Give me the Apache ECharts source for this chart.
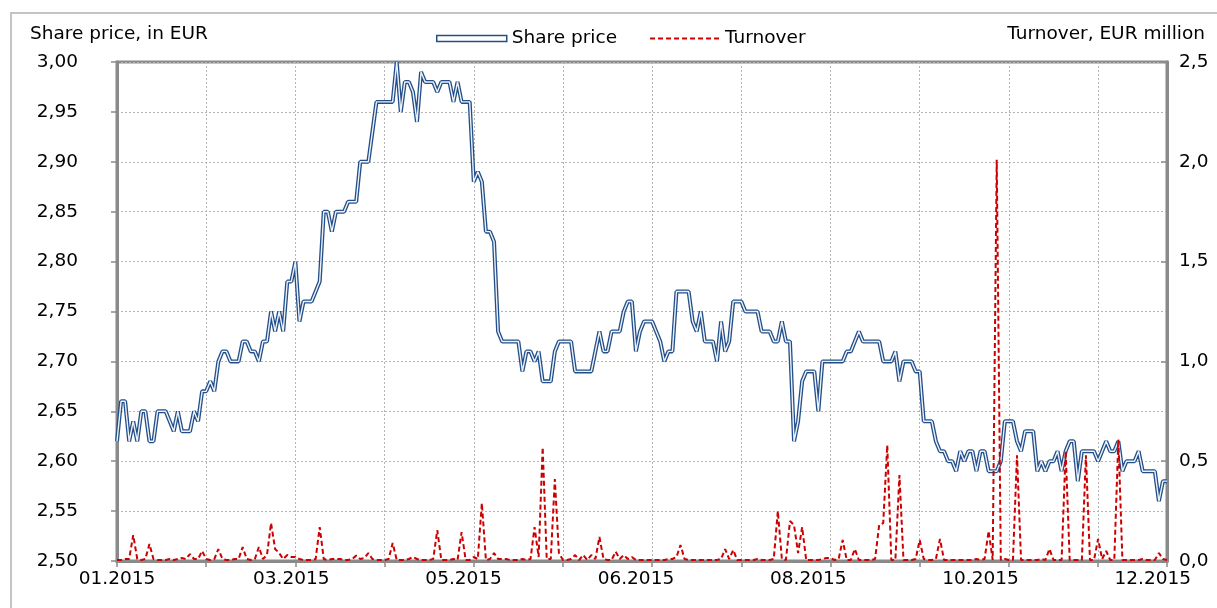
<!DOCTYPE html>
<html>
<head>
<meta charset="utf-8">
<script src="https://cdn.jsdelivr.net/npm/echarts@6/dist/echarts.min.js"></script>
<style>
html,body{margin:0;padding:0;background:#fff;}
#chart{width:1217px;height:608px;}
</style>
</head>
<body>
<div id="chart"></div>
<script>
// Share price (EUR), one value per trading day of 2015
const sharePrice = [
2.62,2.66,2.66,2.62,2.64,2.62,2.65,2.65,2.62,2.62,
2.65,2.65,2.65,2.64,2.63,2.65,2.63,2.63,2.63,2.65,
2.64,2.67,2.67,2.68,2.67,2.70,2.71,2.71,2.70,2.70,
2.70,2.72,2.72,2.71,2.71,2.70,2.72,2.72,2.75,2.73,
2.75,2.73,2.78,2.78,2.80,2.74,2.76,2.76,2.76,2.77,
2.78,2.85,2.85,2.83,2.85,2.85,2.85,2.86,2.86,2.86,
2.90,2.90,2.90,2.93,2.96,2.96,2.96,2.96,2.96,3.00,
2.95,2.98,2.98,2.97,2.94,2.99,2.98,2.98,2.98,2.97,
2.98,2.98,2.98,2.96,2.98,2.96,2.96,2.96,2.88,2.89,
2.88,2.83,2.83,2.82,2.73,2.72,2.72,2.72,2.72,2.72,
2.69,2.71,2.71,2.70,2.71,2.68,2.68,2.68,2.71,2.72,
2.72,2.72,2.72,2.69,2.69,2.69,2.69,2.69,2.71,2.73,
2.71,2.71,2.73,2.73,2.73,2.75,2.76,2.76,2.71,2.73,
2.74,2.74,2.74,2.73,2.72,2.70,2.71,2.71,2.77,2.77,
2.77,2.77,2.74,2.73,2.75,2.72,2.72,2.72,2.70,2.74,
2.71,2.72,2.76,2.76,2.76,2.75,2.75,2.75,2.75,2.73,
2.73,2.73,2.72,2.72,2.74,2.72,2.72,2.62,2.64,2.68,
2.69,2.69,2.69,2.65,2.70,2.70,2.70,2.70,2.70,2.70,
2.71,2.71,2.72,2.73,2.72,2.72,2.72,2.72,2.72,2.70,
2.70,2.70,2.71,2.68,2.70,2.70,2.70,2.69,2.69,2.64,
2.64,2.64,2.62,2.61,2.61,2.60,2.60,2.59,2.61,2.60,
2.61,2.61,2.59,2.61,2.61,2.59,2.59,2.59,2.60,2.64,
2.64,2.64,2.62,2.61,2.63,2.63,2.63,2.59,2.60,2.59,
2.60,2.60,2.61,2.59,2.61,2.62,2.62,2.58,2.61,2.61,
2.61,2.61,2.60,2.61,2.62,2.61,2.61,2.62,2.59,2.60,
2.60,2.60,2.61,2.59,2.59,2.59,2.59,2.56,2.58,2.58
];

// Turnover (EUR million), same trading days
const turnover = [
0.005,0.005,0.01,0.01,0.13,0.01,0.005,0.01,0.085,0.01,
0.005,0.005,0.005,0.01,0.005,0.01,0.015,0.01,0.035,0.01,
0.01,0.05,0.01,0.005,0.01,0.06,0.01,0.005,0.005,0.01,
0.01,0.07,0.01,0.005,0.01,0.07,0.01,0.03,0.19,0.06,
0.04,0.01,0.03,0.02,0.02,0.01,0.005,0.005,0.005,0.01,
0.17,0.01,0.005,0.01,0.01,0.01,0.005,0.005,0.01,0.027,
0.01,0.015,0.04,0.01,0.005,0.005,0.005,0.01,0.09,0.005,
0.005,0.005,0.01,0.02,0.01,0.005,0.005,0.005,0.01,0.155,
0.005,0.005,0.005,0.01,0.005,0.145,0.005,0.005,0.02,0.01,
0.29,0.005,0.01,0.04,0.01,0.01,0.01,0.005,0.005,0.005,
0.01,0.005,0.01,0.17,0.02,0.57,0.01,0.01,0.41,0.04,
0.005,0.005,0.01,0.03,0.005,0.03,0.005,0.03,0.01,0.12,
0.01,0.005,0.005,0.047,0.01,0.03,0.01,0.02,0.005,0.005,
0.005,0.005,0.005,0.005,0.005,0.005,0.01,0.01,0.02,0.08,
0.01,0.005,0.005,0.005,0.005,0.005,0.005,0.005,0.005,0.01,
0.06,0.01,0.055,0.005,0.005,0.005,0.005,0.005,0.01,0.005,
0.005,0.005,0.01,0.25,0.01,0.005,0.2,0.18,0.04,0.17,
0.005,0.005,0.005,0.005,0.01,0.015,0.015,0.005,0.01,0.105,
0.005,0.005,0.06,0.005,0.005,0.005,0.005,0.01,0.18,0.19,
0.58,0.005,0.005,0.43,0.005,0.005,0.005,0.01,0.105,0.01,
0.005,0.005,0.01,0.11,0.005,0.005,0.005,0.005,0.005,0.005,
0.005,0.005,0.01,0.005,0.01,0.15,0.005,2.01,0.005,0.01,
0.005,0.005,0.53,0.005,0.005,0.005,0.005,0.005,0.01,0.005,
0.06,0.005,0.005,0.005,0.55,0.005,0.005,0.005,0.005,0.53,
0.005,0.005,0.11,0.01,0.05,0.005,0.005,0.61,0.005,0.005,
0.005,0.005,0.005,0.01,0.005,0.005,0.005,0.04,0.01,0.005
];

// x-axis tick labels and the trading-day index they sit at
const xLabels = ['01.2015','03.2015','05.2015','06.2015','08.2015','10.2015','12.2015'];
const xLabelIndex = [0, 43, 85.5, 128, 170.5, 213, 255.5];

const seriesNames = ['Share price', 'Turnover'];
const axisTitles = ['Share price, in EUR', 'Turnover, EUR million'];

const FONT = "'DejaVu Sans', Verdana, sans-serif";
const FS = 18.5;
const NAVY = '#224f89';
const RED = '#cc0000';
const AXIS_GREY = '#8a8a8a';
const GRID_GREY = '#b4b4b4';

function xLabelFor(v) {
  for (let i = 0; i < xLabelIndex.length; i++) {
    if (Math.abs(xLabelIndex[i] - v) < 0.01) return xLabels[i];
  }
  return '';
}

const priceData = sharePrice.map((v, i) => [i, v]);
const turnoverData = turnover.map((v, i) => [i, v]);

const chart = echarts.init(document.getElementById('chart'), null, {renderer: 'canvas'});
chart.setOption({
  animation: false,
  backgroundColor: '#ffffff',
  textStyle: {fontFamily: FONT},
  graphic: [{
    type: 'rect', silent: true, z: -10,
    shape: {x: 11, y: 13, width: 1400, height: 800},
    style: {fill: null, stroke: '#c4c4c4', lineWidth: 2}
  }],
  title: [
    {text: axisTitles[0], left: 25, top: 20,
     textStyle: {fontFamily: FONT, fontSize: FS, fontWeight: 'normal', color: '#000'}},
    {text: axisTitles[1], right: 7, top: 20,
     textStyle: {fontFamily: FONT, fontSize: FS, fontWeight: 'normal', color: '#000'}}
  ],
  legend: {
    left: 431, top: 24,
    itemWidth: 70, itemHeight: 6, itemGap: 32,
    textStyle: {fontFamily: FONT, fontSize: FS, color: '#000'},
    data: [
      {name: seriesNames[0], icon: 'rect',
       itemStyle: {color: '#ffffff', borderColor: NAVY, borderWidth: 1.5}},
      {name: seriesNames[1], itemStyle: {color: 'rgba(0,0,0,0)', borderWidth: 0, opacity: 0}}
    ]
  },
  grid: {
    left: 117, right: 50, top: 62, bottom: 47,
    show: true, borderColor: AXIS_GREY, borderWidth: 3, backgroundColor: 'transparent'
  },
  xAxis: {
    type: 'value', min: 0, max: sharePrice.length - 1, interval: 22,
    axisLine: {show: true, lineStyle: {color: AXIS_GREY, width: 3}},
    axisTick: {show: true, length: 6, lineStyle: {color: AXIS_GREY, width: 1.5}},
    splitLine: {show: true, lineStyle: {color: GRID_GREY, width: 1, type: [2, 2]}},
    axisLabel: {
      customValues: xLabelIndex,
      margin: 9,
      fontFamily: FONT, fontSize: FS, color: '#000',
      formatter: function (v) { return xLabelFor(v); }
    }
  },
  yAxis: [
    {
      type: 'value', min: 2.5, max: 3.0, interval: 0.05, position: 'left',
      axisLine: {show: true, lineStyle: {color: AXIS_GREY, width: 3}},
      axisTick: {show: true, length: 6, lineStyle: {color: AXIS_GREY, width: 1.5}},
      splitLine: {show: true, lineStyle: {color: GRID_GREY, width: 1, type: [2, 2]}},
      axisLabel: {
        margin: 39, fontFamily: FONT, fontSize: FS, color: '#000',
        formatter: function (v) { return v.toFixed(2).replace('.', ','); }
      }
    },
    {
      type: 'value', min: 0, max: 2.5, interval: 0.5, position: 'right',
      axisLine: {show: true, lineStyle: {color: AXIS_GREY, width: 3}},
      axisTick: {show: true, inside: true, length: 6, lineStyle: {color: AXIS_GREY, width: 1.5}},
      splitLine: {show: false},
      axisLabel: {
        margin: 12, fontFamily: FONT, fontSize: FS, color: '#000',
        formatter: function (v) { return v.toFixed(1).replace('.', ','); }
      }
    }
  ],
  series: [
    {
      name: seriesNames[0], type: 'line', yAxisIndex: 0,
      data: priceData, showSymbol: false, symbol: 'none',
      lineStyle: {color: NAVY, width: 4}, itemStyle: {color: NAVY},
      z: 2, silent: true
    },
    {
      name: 'inner', type: 'line', yAxisIndex: 0,
      data: priceData, showSymbol: false, symbol: 'none',
      lineStyle: {color: '#eef2f8', width: 1.4},
      z: 3, silent: true
    },
    {
      name: seriesNames[1], type: 'line', yAxisIndex: 1,
      data: turnoverData, showSymbol: false, symbol: 'none',
      lineStyle: {color: RED, width: 2, type: [5, 3]}, itemStyle: {color: RED},
      z: 4, silent: true
    }
  ]
});
</script>
</body>
</html>
